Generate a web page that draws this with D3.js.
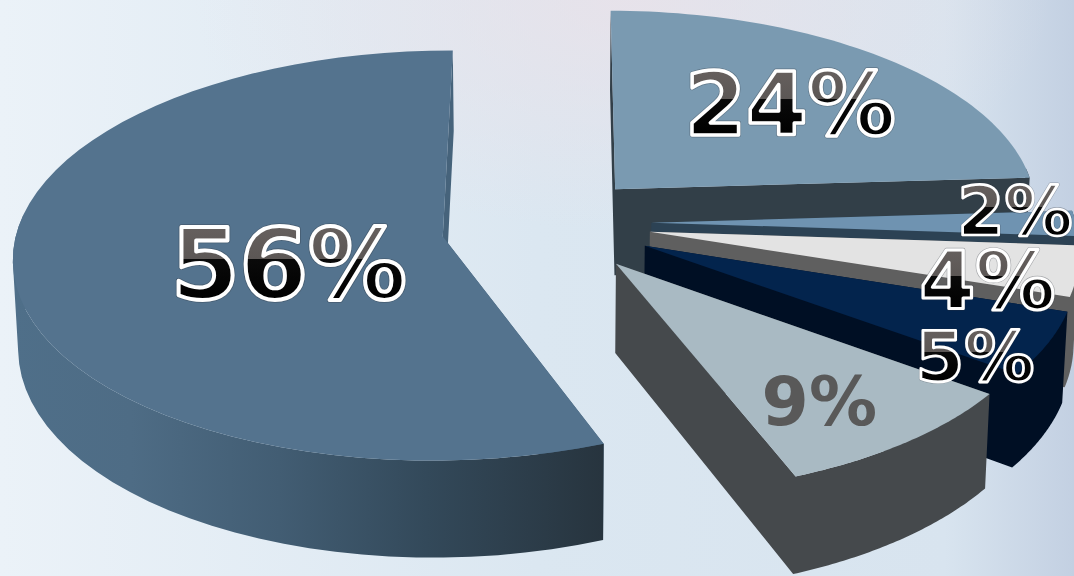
<!DOCTYPE html>
<html>
<head>
<meta charset="utf-8">
<script src="https://cdn.jsdelivr.net/npm/d3@7"></script>
<style>
html,body{margin:0;padding:0;background:#e0eaf3;overflow:hidden}
svg{display:block}
text{font-family:"DejaVu Sans";font-weight:700;text-anchor:middle}
</style>
</head>
<body>
<svg id="chart" width="1074" height="576"></svg>
<script>
// Shares of the whole, clockwise from twelve o'clock
const shares = [24, 2, 4, 5, 9, 56];
const topColors = ["#7a9ab1", "#6f93b1", "#e3e3e3", "#03244d", "#a9bac3", "#54738e"];
const wallColors = ["#323f48", "#2c4254", "#5f5f5f", "#000f24", "#45494c", "url(#bigWall)"];
const faceColors = ["#323f48", "#2c4254", "#5f5f5f", "#000f24", "#45494c", "#46637b"];
// How far each slice is pulled out from the pie centre
const explodes = [0.232, 0.242, 0.242, 0.252, 0.255, 0.242];
// Label placement inside each slice: bearing in degrees, radius as a fraction of the pie
const labelBearings = [43.9, 86, 106.7, 125.2, 144.9, 249.6];
const labelRadii = [0.64, 0.865, 0.804, 0.884, 0.754, 0.3765];
const labelSizes = [88, 68, 80, 70, 68, 98.5];

const W = 1074, H = 576;
const startDeg = 0.2, smallDrift = -0.025, bigDrift = -0.01;
// Camera: ground-plane homography plus extrusion depth
const cam = {vx: 545, x0: -98, rx: 427, baseY: 236, ry: 203.2, p: 0.0927, depth: 88, taper: 0.01, ox: 0.238, oy: -0.042};

function project(x, y, z) {
  const X = x + cam.ox, Y = y + cam.oy;
  const w = 1 - cam.p * Y;
  const sx = (cam.x0 + cam.rx * X) / w;
  return [cam.vx + sx * (1 - cam.taper * z), cam.baseY + cam.ry * Y / w + cam.depth * z / w];
}

const svg = d3.select("#chart");
const defs = svg.append("defs");

// Backdrop: pale blue wash with a faint pink cast up top and a cooler right edge
const bg = defs.append("linearGradient").attr("id", "bgBase").attr("x1", 0).attr("x2", 1).attr("y1", 0).attr("y2", 0);
[[0, "#ebf2f8"], [0.5, "#dbe7f1"], [0.88, "#d8e4ef"], [1, "#c3d0e2"]].forEach(([o, c]) => bg.append("stop").attr("offset", o).attr("stop-color", c));
const pink = defs.append("radialGradient").attr("id", "bgPink").attr("cx", 0.58).attr("cy", 0).attr("r", 0.4);
pink.append("stop").attr("offset", 0).attr("stop-color", "#ebe1e8").attr("stop-opacity", 0.75);
pink.append("stop").attr("offset", 1).attr("stop-color", "#ebe1e8").attr("stop-opacity", 0);
svg.append("rect").attr("width", W).attr("height", H).attr("fill", "url(#bgBase)");
svg.append("rect").attr("width", W).attr("height", H).attr("fill", "url(#bgPink)");

// The large slice's rim darkens toward its front-right end
const bw = defs.append("linearGradient").attr("id", "bigWall").attr("gradientUnits", "userSpaceOnUse")
  .attr("x1", 13).attr("x2", 604).attr("y1", 0).attr("y2", 0);
[[0, "#4f6f89"], [0.2, "#4e6c85"], [0.45, "#425d73"], [0.7, "#33495a"], [1, "#27343e"]].forEach(([o, c]) => bw.append("stop").attr("offset", o).attr("stop-color", c));

const pie = d3.pie().sort(null)
  .startAngle(startDeg * Math.PI / 180)
  .endAngle(startDeg * Math.PI / 180 + 2 * Math.PI);
const slices = pie(shares);
const line = d3.line();
const biggest = d3.max(shares);

// Every quad is wound the same way, so overlapping strips in one path stay solid and seamless
const quadPath = quad => line(d3.polygonArea(quad) < 0 ? quad.slice().reverse() : quad) + "Z";

slices.forEach((s, i) => {
  const mid = (s.startAngle + s.endAngle) / 2;
  const isBig = shares[i] === biggest;
  const ax = explodes[i] * Math.sin(mid) + (isBig ? bigDrift : 0);
  const ay = -explodes[i] * Math.cos(mid) + (isBig ? 0 : smallDrift);
  const rimAngles = d3.range(0, 61).map(k => s.startAngle + (s.endAngle - s.startAngle) * k / 60);
  const rim = a => [ax + Math.sin(a), ay - Math.cos(a)];
  const g = svg.append("g");
  const facePath = [s.startAngle, s.endAngle].map(a => {
    const [x, y] = rim(a);
    return quadPath([project(ax, ay, 0), project(x, y, 0), project(x, y, 1), project(ax, ay, 1)]);
  }).join("");
  // Only the part of the rim that turns toward the viewer is drawn
  const rimPath = d3.pairs(rimAngles).filter(([a, b]) => -Math.cos((a + b) / 2) > -0.1).map(([a, b]) => {
    const [x0, y0] = rim(a), [x1, y1] = rim(b);
    return quadPath([project(x0, y0, 0), project(x1, y1, 0), project(x1, y1, 1), project(x0, y0, 1)]);
  }).join("");
  if (faceColors[i] === wallColors[i]) {
    g.append("path").attr("fill", wallColors[i]).attr("d", facePath + rimPath);
  } else {
    g.append("path").attr("fill", faceColors[i]).attr("d", facePath);
    g.append("path").attr("fill", wallColors[i]).attr("d", rimPath);
  }
  g.append("path").attr("fill", topColors[i])
    .attr("d", line([project(ax, ay, 0)].concat(rimAngles.map(a => { const [x, y] = rim(a); return project(x, y, 0); }))) + "Z");
  s.anchor = a => project(ax + labelRadii[i] * Math.sin(a), ay - labelRadii[i] * Math.cos(a), 0);
});

// Percentage labels: two-tone dark ink under a white outline, except the plain grey one on the pale slice
slices.forEach((s, i) => {
  const [x, y] = s.anchor(labelBearings[i] * Math.PI / 180);
  const fs = labelSizes[i];
  const base = y + fs * 0.365;
  const txt = shares[i] + "%";
  if (shares[i] === 9) {
    svg.append("text").attr("x", x).attr("y", base).attr("font-size", fs).attr("fill", "#595959").text(txt);
    return;
  }
  const id = "ink" + i;
  const gr = defs.append("linearGradient").attr("id", id).attr("gradientUnits", "userSpaceOnUse")
    .attr("x1", 0).attr("x2", 0).attr("y1", base - fs * 0.74).attr("y2", base);
  gr.append("stop").attr("offset", 0).attr("stop-color", "#66605e");
  gr.append("stop").attr("offset", 0.44).attr("stop-color", "#5c5755");
  gr.append("stop").attr("offset", 0.44).attr("stop-color", "#0a0a0a");
  gr.append("stop").attr("offset", 1).attr("stop-color", "#000000");
  svg.append("text").attr("x", x).attr("y", base).attr("font-size", fs)
    .attr("fill", "#2a3238").attr("fill-opacity", 0.4).attr("stroke", "#2a3238").attr("stroke-opacity", 0.35)
    .attr("stroke-width", fs * 0.056).attr("stroke-linejoin", "round").text(txt);
  svg.append("text").attr("x", x).attr("y", base).attr("font-size", fs)
    .attr("fill", "url(#" + id + ")").attr("stroke", "#ffffff")
    .attr("stroke-width", fs * 0.04).attr("stroke-linejoin", "round").text(txt);
});
</script>
</body>
</html>
